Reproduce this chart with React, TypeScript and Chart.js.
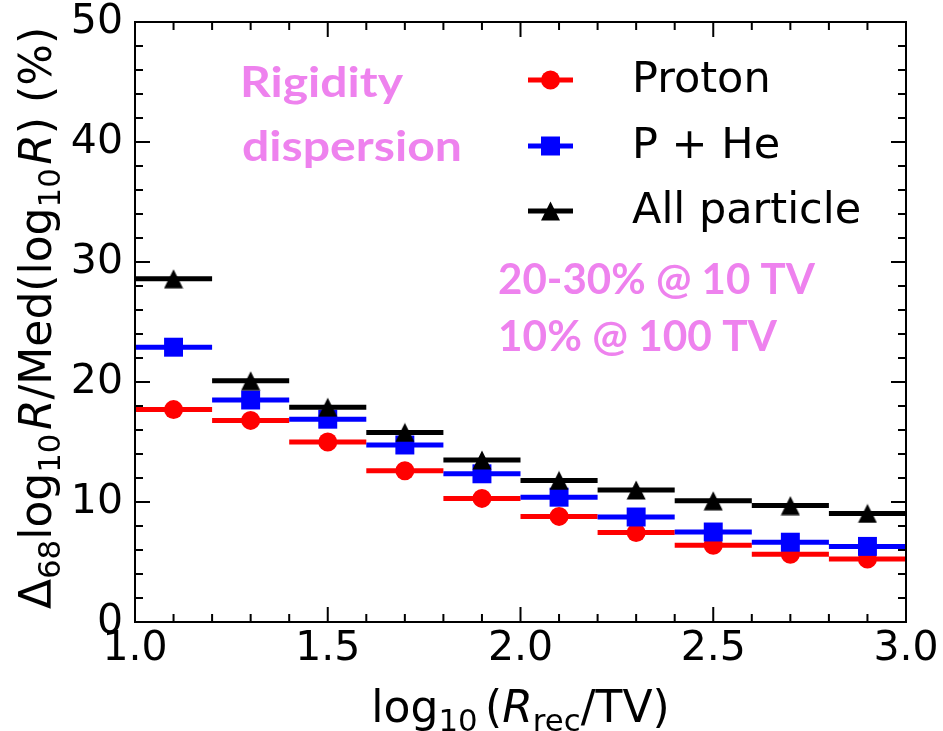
import React, { useEffect, useRef } from 'react';
import { Chart, registerables } from 'chart.js';

Chart.register(...registerables);

// ---- data ----
const binCenters = [1.1, 1.3, 1.5, 1.7, 1.9, 2.1, 2.3, 2.5, 2.7, 2.9];
const binHalfWidth = 0.1;
const protonValues = [17.7, 16.8, 15.0, 12.6, 10.3, 8.8, 7.45, 6.4, 5.65, 5.25];
const pHeValues = [22.9, 18.5, 16.9, 14.75, 12.35, 10.4, 8.75, 7.5, 6.65, 6.3];
const allParticleValues = [28.6, 20.1, 17.9, 15.8, 13.5, 11.8, 11.0, 10.1, 9.7, 9.05];
const seriesLabels = ['Proton', 'P + He', 'All particle'];
const xTickValues = [1.0, 1.5, 2.0, 2.5, 3.0];
const yTickValues = [0, 10, 20, 30, 40, 50];
const annotationTitle = ['Rigidity', 'dispersion'];
const annotationNote = ['20-30% @ 10 TV', '10% @ 100 TV'];

const RED = '#ff0000';
const BLUE = '#0000ff';
const BLACK = '#000000';
const PINK = '#ee82ee';
const FONT = '"DejaVu Sans"';

type Run = { t: string; sub?: boolean; italic?: boolean; gap?: number };

function runFont(r: Run, size: number) {
  const s = r.sub ? size * 0.7 : size;
  return `${r.italic ? 'oblique ' : ''}${s}px ${FONT}`;
}

function drawRich(ctx: CanvasRenderingContext2D, runs: Run[], size: number, cx: number, baseY: number) {
  const widths = runs.map((r) => {
    ctx.font = runFont(r, size);
    return ctx.measureText(r.t).width + (r.gap || 0) * size;
  });
  const total = widths.reduce((a, b) => a + b, 0);
  let x = cx - total / 2;
  ctx.textAlign = 'left';
  ctx.textBaseline = 'alphabetic';
  runs.forEach((r, i) => {
    ctx.font = runFont(r, size);
    const g = (r.gap || 0) * size;
    ctx.fillText(r.t, x + g, baseY + (r.sub ? size * 0.2 : 0));
    x += widths[i];
  });
}

function drawFitted(ctx: CanvasRenderingContext2D, text: string, x: number, baseY: number, targetWidth: number) {
  const w = ctx.measureText(text).width;
  const sx = targetWidth / w;
  ctx.save();
  ctx.translate(x, baseY);
  ctx.scale(sx, 1);
  ctx.fillText(text, 0, 0);
  ctx.restore();
}

function drawMarker(ctx: CanvasRenderingContext2D, kind: string, x: number, y: number, color: string) {
  ctx.fillStyle = color;
  ctx.beginPath();
  if (kind === 'circle') {
    ctx.arc(x, y, 9.5, 0, Math.PI * 2);
  } else if (kind === 'rect') {
    ctx.rect(x - 9.5, y - 9.5, 19, 19);
  } else {
    ctx.moveTo(x, y - 9.5);
    ctx.lineTo(x + 9.5, y + 9.5);
    ctx.lineTo(x - 9.5, y + 9.5);
    ctx.closePath();
  }
  ctx.fill();
}

function barData(vals: number[]) {
  const out: { x: number; y: number | null }[] = [];
  binCenters.forEach((c, i) => {
    out.push({ x: c - binHalfWidth, y: vals[i] });
    out.push({ x: c + binHalfWidth, y: vals[i] });
    out.push({ x: c + binHalfWidth, y: null });
  });
  return out;
}

function pointData(vals: number[]) {
  return binCenters.map((c, i) => ({ x: c, y: vals[i] }));
}

const decorPlugin = {
  id: 'decor',
  afterDraw(chart: any) {
    const ctx: CanvasRenderingContext2D = chart.ctx;
    const { left, right, top, bottom } = chart.chartArea;
    const xs = chart.scales.x;
    const ys = chart.scales.y;
    ctx.save();
    ctx.strokeStyle = '#000';
    ctx.lineWidth = 2;
    ctx.strokeRect(left, top, right - left, bottom - top);

    const major = 15;
    const minor = 8;
    ctx.beginPath();
    for (let k = 10; k <= 30; k++) {
      const v = k / 10;
      const len = k % 5 === 0 ? major : minor;
      const px = xs.getPixelForValue(v);
      ctx.moveTo(px, bottom);
      ctx.lineTo(px, bottom - len);
      ctx.moveTo(px, top);
      ctx.lineTo(px, top + len);
    }
    for (let k = 0; k <= 25; k++) {
      const v = k * 2;
      const len = v % 10 === 0 ? major : minor;
      const py = ys.getPixelForValue(v);
      ctx.moveTo(left, py);
      ctx.lineTo(left + len, py);
      ctx.moveTo(right, py);
      ctx.lineTo(right - len, py);
    }
    ctx.stroke();

    // legend
    const rows = [80, 146, 211];
    const colors = [RED, BLUE, BLACK];
    const kinds = ['circle', 'rect', 'triangle'];
    rows.forEach((ry, i) => {
      ctx.strokeStyle = colors[i];
      ctx.lineWidth = 5;
      ctx.beginPath();
      ctx.moveTo(528, ry);
      ctx.lineTo(573, ry);
      ctx.stroke();
      drawMarker(ctx, kinds[i], 550.5, ry, colors[i]);
      ctx.fillStyle = '#000';
      ctx.font = `43px ${FONT}`;
      ctx.textAlign = 'left';
      ctx.textBaseline = 'middle';
      ctx.fillText(seriesLabels[i], 632, ry + 1);
    });

    // annotations
    ctx.fillStyle = PINK;
    ctx.font = 'bold 42px Lato';
    ctx.textAlign = 'left';
    ctx.textBaseline = 'alphabetic';
    drawFitted(ctx, annotationTitle[0], 240, 97, 163);
    drawFitted(ctx, annotationTitle[1], 242, 161, 220);
    drawFitted(ctx, annotationNote[0], 498, 294, 317);
    drawFitted(ctx, annotationNote[1], 498, 351, 279);

    // axis titles
    ctx.fillStyle = '#000';
    drawRich(
      ctx,
      [
        { t: 'log' },
        { t: '10', sub: true },
        { t: '(', gap: 0.17 },
        { t: 'R', italic: true },
        { t: 'rec', sub: true },
        { t: '/TV)' },
      ],
      44,
      (left + right) / 2,
      722
    );
    ctx.save();
    ctx.translate(51, (top + bottom) / 2 - 4);
    ctx.rotate(-Math.PI / 2);
    drawRich(
      ctx,
      [
        { t: '\u0394' },
        { t: '68', sub: true },
        { t: 'log' },
        { t: '10', sub: true },
        { t: 'R', italic: true, gap: 0.08 },
        { t: '/Med(log' },
        { t: '10', sub: true },
        { t: 'R', italic: true, gap: 0.08 },
        { t: ') (%)' },
      ],
      44,
      0,
      0
    );
    ctx.restore();
    ctx.restore();
  },
};

export default function App() {
  const ref = useRef<HTMLCanvasElement>(null);
  useEffect(() => {
    const canvas = ref.current;
    if (!canvas) return;
    const tri = document.createElement('canvas');
    tri.width = 20;
    tri.height = 20;
    const tctx = tri.getContext('2d')!;
    tctx.fillStyle = BLACK;
    tctx.beginPath();
    tctx.moveTo(10, 0.5);
    tctx.lineTo(19.5, 19.5);
    tctx.lineTo(0.5, 19.5);
    tctx.closePath();
    tctx.fill();

    const lineDs = (label: string, vals: number[], color: string, order: number) => ({
      label,
      data: barData(vals),
      borderColor: color,
      backgroundColor: color,
      borderWidth: 5,
      borderCapStyle: 'butt',
      pointRadius: 0,
      spanGaps: false,
      fill: false,
      order,
    });
    const markDs = (label: string, vals: number[], color: string, style: any, radius: number, order: number) => ({
      label,
      data: pointData(vals),
      showLine: false,
      pointStyle: style,
      pointRadius: radius,
      pointBackgroundColor: color,
      pointBorderColor: color,
      pointBorderWidth: 0,
      backgroundColor: color,
      borderColor: color,
      order,
    });

    const chart = new Chart(canvas, {
      type: 'line',
      data: {
        datasets: [
          lineDs(seriesLabels[0], protonValues, RED, 6),
          markDs(seriesLabels[0], protonValues, RED, 'circle', 9.5, 5),
          lineDs(seriesLabels[1], pHeValues, BLUE, 4),
          markDs(seriesLabels[1], pHeValues, BLUE, 'rect', 13.4, 3),
          lineDs(seriesLabels[2], allParticleValues, BLACK, 2),
          markDs(seriesLabels[2], allParticleValues, BLACK, tri, 10, 1),
        ] as any,
      },
      options: {
        animation: false,
        responsive: false,
        devicePixelRatio: 1,
        events: [],
        layout: { padding: { left: 0, right: 37, top: 22, bottom: 0 } },
        plugins: { legend: { display: false }, tooltip: { enabled: false } },
        scales: {
          x: {
            type: 'linear',
            min: 1,
            max: 3,
            grid: { display: false, drawTicks: false },
            border: { display: false },
            afterBuildTicks: (s: any) => {
              s.ticks = xTickValues.map((v) => ({ value: v }));
            },
            afterFit: (s: any) => {
              s.height = 109;
            },
            ticks: {
              color: '#000',
              padding: 3,
              maxRotation: 0,
              autoSkip: false,
              font: { family: FONT, size: 41 },
              callback: (v: any) => Number(v).toFixed(1),
            },
          },
          y: {
            type: 'linear',
            min: 0,
            max: 50,
            grid: { display: false, drawTicks: false },
            border: { display: false },
            afterBuildTicks: (s: any) => {
              s.ticks = yTickValues.map((v) => ({ value: v }));
            },
            afterFit: (s: any) => {
              s.width = 135;
              s.paddingTop = 0;
              s.paddingBottom = 0;
            },
            ticks: {
              color: '#000',
              padding: 12,
              autoSkip: false,
              font: { family: FONT, size: 41, lineHeight: 0.2 },
              callback: (v: any) => String(v),
            },
          },
        },
      } as any,
      plugins: [decorPlugin],
    });
    return () => chart.destroy();
  }, []);
  return (
    <div style={{ position: 'fixed', left: 0, top: 0, width: 943, height: 731, background: '#fff' }}>
      <canvas ref={ref} width={943} height={731} style={{ display: 'block' }} />
    </div>
  );
}
